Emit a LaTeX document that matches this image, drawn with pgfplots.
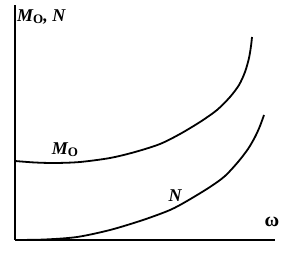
\documentclass[border=0pt]{standalone}
\usepackage{pgfplots}
\pgfplotsset{compat=1.18}
\usepackage{fontspec}
\setmainfont{Liberation Serif}
\newcommand{\lab}{\fontsize{18}{20}\selectfont\bfseries\itshape}
\newcommand{\sub}{\raisebox{-2pt}{\upshape\fontsize{13}{14}\selectfont O}}
\begin{document}
\begin{tikzpicture}
\begin{axis}[
  scale only axis, width=260pt, height=235pt,
  xmin=0, xmax=260, ymin=0, ymax=235,
  axis lines=left, axis line style={-, line width=1.2pt},
  xtick=\empty, ytick=\empty,
  clip=false,
]
\path (axis cs:-15,-13) rectangle (axis cs:273,240);
\addplot[black, line width=1.8pt, smooth] coordinates {
(0,79) (20,77.5) (40,77) (65,78) (95,82) (120,88) (145,96) (165,106) (185,118) (202,130) (215,143) (224,155) (230,168) (234,182) (236,194) (237,203)};
\addplot[black, line width=1.8pt, smooth] coordinates {
(0,0) (30,0.5) (62,3) (95,10) (128,20) (155,30) (172,39) (195,53) (210,64) (223,78) (233,91) (240,103) (245,114) (249,125)};
\node[anchor=west, inner sep=0pt] at (axis cs:2,223) {\lab M\sub, N};
\node[inner sep=0pt] at (axis cs:50,90) {\lab M\sub};
\node[inner sep=0pt] at (axis cs:160,44) {\lab N};
\node[inner sep=0pt] at (axis cs:257,18) {\fontsize{20}{22}\selectfont\bfseries ω};
\end{axis}
\end{tikzpicture}
\end{document}
